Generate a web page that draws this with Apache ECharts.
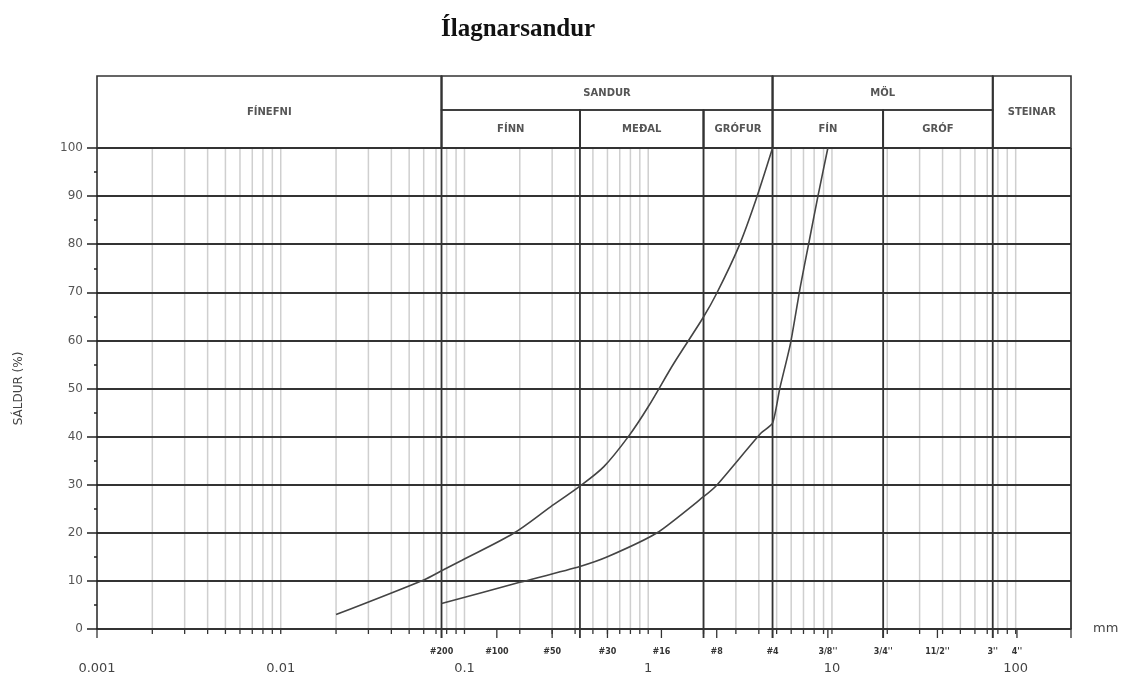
<!DOCTYPE html>
<html>
<head>
<meta charset="utf-8">
<title>Ílagnarsandur</title>
<script src="https://cdn.jsdelivr.net/npm/echarts@6/dist/echarts.min.js"></script>
<style>
  html, body { margin: 0; padding: 0; background: #fff; }
  #chart { width: 1122px; height: 677px; }
</style>
</head>
<body>
<div id="chart"></div>
<script>
// grain size (mm) / percent passing
const curveA_mm = [0.02, 0.06, 0.075, 0.097, 0.185, 0.294, 0.425, 0.572, 0.783, 1.0, 1.377, 1.98, 2.36, 3.11, 3.8, 4.75];
const curveA_pct = [3, 10.2, 12.1, 14.3, 19.9, 25.4, 29.7, 33.7, 40.1, 46.2, 55.2, 64.6, 69.8, 79.5, 88.5, 100];
const curveB_mm = [0.075, 0.2, 0.425, 0.6, 1.118, 2, 2.36, 4.1, 4.75, 5.2, 5.95, 6.73, 7.48, 8.38, 9.5];
const curveB_pct = [5.3, 9.7, 13.0, 15.0, 20.0, 27.5, 29.9, 40.7, 42.8, 50.0, 59.4, 71.2, 80.2, 89.9, 100];

// sieves under the axis
const sieveSizes = [0.075, 0.15, 0.3, 0.6, 1.18, 2.36, 4.75, 9.5, 19, 37.5, 75, 101.6];
const sieveLabels = ['#200', '#100', '#50', '#30', '#16', '#8', '#4', "3/8''", "3/4''", "11/2''", "3''", "4''"];

// class boundaries + header
const classBounds = [0.075, 0.425, 2, 4.75, 19, 75];
const classFull = [true, false, false, true, false, true];
const groupNames = ['FÍNEFNI', 'SANDUR', 'MÖL', 'STEINAR'];
const groupFrom = [0.001, 0.075, 4.75, 75];
const groupTo = [0.075, 4.75, 75, 200];
const groupFull = [true, false, false, true];
const subNames = ['FÍNN', 'MEÐAL', 'GRÓFUR', 'FÍN', 'GRÓF'];
const subFrom = [0.075, 0.425, 2, 4.75, 19];
const subTo = [0.425, 2, 4.75, 19, 75];

const mantissas = [1, 2, 3, 4, 5, 6, 7, 8, 9];

const X_MIN = 0.001, X_MAX = 200;
const HEAD_TOP = 72, HEAD_MID = 38; // px above the 100% line
const DARK = '#333';

// light log grid 2..9 per decade
const minorLines = [];
for (let e = -3; e <= 2; e++) {
  mantissas.forEach(m => {
    const v = +(m * Math.pow(10, e)).toPrecision(3);
    if (v > X_MIN && v < X_MAX) minorLines.push(v);
  });
}

const chart = echarts.init(document.getElementById('chart'));

function vLines(color, width, topFn, below) {
  return function (params, api) {
    const x = api.value(0);
    const b = api.coord([x, 0]);
    const t = api.coord([x, 100]);
    return {
      type: 'line',
      shape: { x1: b[0], y1: b[1] + below(params.dataIndex), x2: t[0], y2: t[1] - topFn(params.dataIndex) },
      style: { stroke: color, lineWidth: width }
    };
  };
}

function cell(names, from, to, topOff, botOff, font) {
  return function (params, api) {
    const i = params.dataIndex;
    const p0 = api.coord([from[i], 100]);
    const p1 = api.coord([to[i], 100]);
    const y0 = p0[1] - topOff(i);
    const y1 = p0[1] - botOff(i);
    return {
      type: 'group',
      children: [
        { type: 'rect', shape: { x: p0[0], y: y0, width: p1[0] - p0[0], height: y1 - y0 },
          style: { fill: 'none', stroke: DARK, lineWidth: 1.6 } },
        { type: 'text', style: { text: names[i], x: (p0[0] + p1[0]) / 2, y: (y0 + y1) / 2,
          align: 'center', verticalAlign: 'middle', fill: '#555', font: font } }
      ]
    };
  };
}

const option = {
  animation: false,
  backgroundColor: '#fff',
  title: {
    text: 'Ílagnarsandur',
    left: 436,
    top: 12,
    textStyle: { fontFamily: 'Liberation Serif', fontWeight: 'bold', fontSize: 25, color: '#111' }
  },
  grid: { left: 97, right: 51, top: 148, bottom: 48 },
  xAxis: {
    type: 'log',
    logBase: 10,
    min: X_MIN,
    max: X_MAX,
    axisLine: { lineStyle: { color: '#222', width: 1.5 } },
    axisTick: { show: false },
    splitLine: { show: false },
    axisLabel: {
      margin: 33,
      color: '#444',
      fontSize: 13,
      fontFamily: 'DejaVu Sans',
      showMaxLabel: false,
      formatter: v => {
        const l = Math.log10(v);
        return Math.abs(l - Math.round(l)) < 1e-6 ? String(v) : '';
      }
    },
    name: 'mm',
    nameLocation: 'end',
    nameGap: 22,
    nameTextStyle: { color: '#444', fontSize: 13, fontFamily: 'DejaVu Sans', padding: [68, 0, 0, 0] }
  },
  yAxis: {
    type: 'value',
    min: 0,
    max: 100,
    interval: 10,
    z: 3,
    name: 'SÁLDUR (%)',
    nameLocation: 'middle',
    nameGap: 72,
    nameTextStyle: { color: '#444', fontSize: 12, fontFamily: 'DejaVu Sans' },
    axisLine: { show: true, lineStyle: { color: '#222', width: 1.5 } },
    axisTick: { show: true, length: 10, lineStyle: { color: '#222', width: 1.5 } },
    minorTick: { show: true, splitNumber: 2, length: 3, lineStyle: { color: '#222', width: 1.5 } },
    splitLine: { lineStyle: { color: DARK, width: 2 } },
    axisLabel: { margin: 14, color: '#555', fontSize: 12, fontFamily: 'DejaVu Sans' }
  },
  series: [
    {
      name: 'minor grid',
      type: 'custom',
      z: 1,
      silent: true,
      data: minorLines.map(v => [v, 0]),
      renderItem: vLines('#cfcfcf', 1.5, () => 0, () => 0)
    },
    {
      name: 'x ticks',
      type: 'custom',
      z: 4,
      silent: true,
      data: minorLines.concat(sieveSizes, [X_MIN, X_MAX]).map(v => [v, 0]),
      renderItem: function (params, api) {
        const p = api.coord([api.value(0), 0]);
        const len = params.dataIndex < minorLines.length ? 5 : 9;
        return { type: 'line', shape: { x1: p[0], y1: p[1], x2: p[0], y2: p[1] + len },
          style: { stroke: '#333', lineWidth: 1.3 } };
      }
    },
    {
      name: 'class bounds',
      type: 'custom',
      z: 4,
      silent: true,
      data: classBounds.concat([X_MAX]).map(v => [v, 0]),
      renderItem: vLines(DARK, 1.8,
        i => (i < classBounds.length ? (classFull[i] ? HEAD_TOP : HEAD_MID) : 0),
        i => (i < classBounds.length ? 9 : 0))
    },
    {
      name: 'header groups',
      type: 'custom',
      z: 4,
      silent: true,
      data: groupNames.map((n, i) => [groupFrom[i], 100]),
      renderItem: cell(groupNames, groupFrom, groupTo, () => HEAD_TOP,
        i => (groupFull[i] ? 0 : HEAD_MID), 'bold 10px "DejaVu Sans"')
    },
    {
      name: 'header classes',
      type: 'custom',
      z: 4,
      silent: true,
      data: subNames.map((n, i) => [subFrom[i], 100]),
      renderItem: cell(subNames, subFrom, subTo, () => HEAD_MID, () => 0, 'bold 10px "DejaVu Sans"')
    },
    {
      name: 'sieves',
      type: 'custom',
      z: 4,
      silent: true,
      data: sieveSizes.map(v => [v, 0]),
      renderItem: function (params, api) {
        const p = api.coord([api.value(0), 0]);
        return { type: 'text', style: { text: sieveLabels[params.dataIndex], x: p[0], y: p[1] + 23,
          align: 'center', verticalAlign: 'middle', fill: '#333', font: 'bold 8px "DejaVu Sans"' } };
      }
    },
    {
      name: 'A',
      type: 'line',
      z: 6,
      showSymbol: false,
      smooth: 0.3,
      data: curveA_mm.map((d, i) => [d, curveA_pct[i]]),
      lineStyle: { color: '#444', width: 1.6 }
    },
    {
      name: 'B',
      type: 'line',
      z: 6,
      showSymbol: false,
      smooth: 0.2,
      data: curveB_mm.map((d, i) => [d, curveB_pct[i]]),
      lineStyle: { color: '#444', width: 1.6 }
    }
  ]
};

chart.setOption(option);
</script>
</body>
</html>
